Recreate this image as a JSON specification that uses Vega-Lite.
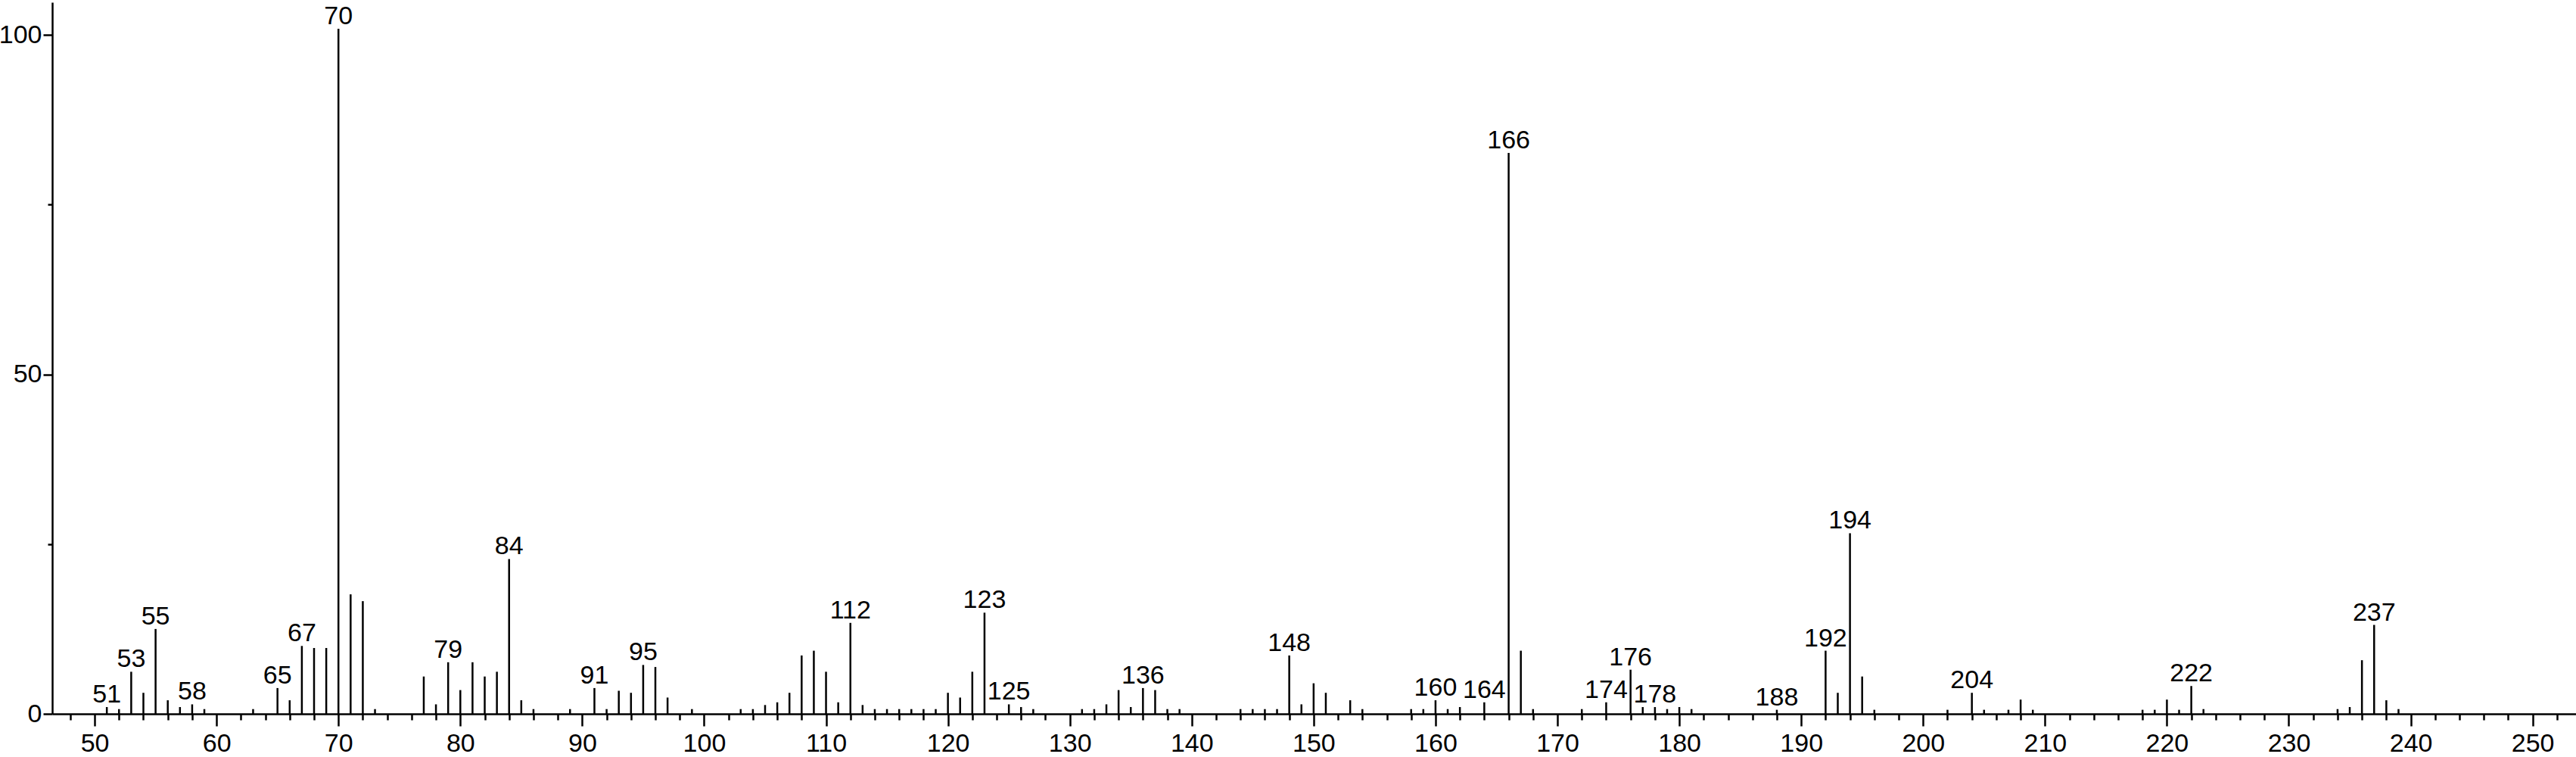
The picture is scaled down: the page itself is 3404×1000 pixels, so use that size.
{
  "$schema": "https://vega.github.io/schema/vega-lite/v6.json",
  "autosize": {"type": "none"},
  "padding": {"left": 69, "top": 3, "right": 0, "bottom": 57},
  "width": 3335,
  "height": 940,
  "background": "white",
  "config": {
    "view": {"stroke": null},
    "axis": {
      "domainColor": "black", "domainWidth": 2.5, "tickColor": "black", "tickWidth": 2.5,
      "labelColor": "black", "labelFont": "Liberation Sans", "labelFontSize": 34,
      "grid": false, "title": null, "labelOverlap": false, "labelFlush": false
    },
    "text": {"font": "Liberation Sans", "fontSize": 34, "color": "black"}
  },
  "data": {"values": [
    {"mz": 51, "rel": 1.0, "lab": 1}, {"mz": 52, "rel": 0.7, "lab": 0}, {"mz": 53, "rel": 6.2, "lab": 1},
    {"mz": 54, "rel": 3.1, "lab": 0}, {"mz": 55, "rel": 12.5, "lab": 1}, {"mz": 56, "rel": 2.0, "lab": 0},
    {"mz": 57, "rel": 1.0, "lab": 0}, {"mz": 58, "rel": 1.4, "lab": 1}, {"mz": 59, "rel": 0.7, "lab": 0},
    {"mz": 63, "rel": 0.7, "lab": 0}, {"mz": 65, "rel": 3.8, "lab": 1}, {"mz": 66, "rel": 2.0, "lab": 0},
    {"mz": 67, "rel": 10.0, "lab": 1}, {"mz": 68, "rel": 9.7, "lab": 0}, {"mz": 69, "rel": 9.7, "lab": 0},
    {"mz": 70, "rel": 100.9, "lab": 1}, {"mz": 71, "rel": 17.6, "lab": 0}, {"mz": 72, "rel": 16.6, "lab": 0},
    {"mz": 73, "rel": 0.7, "lab": 0}, {"mz": 77, "rel": 5.5, "lab": 0}, {"mz": 78, "rel": 1.4, "lab": 0},
    {"mz": 79, "rel": 7.6, "lab": 1}, {"mz": 80, "rel": 3.5, "lab": 0}, {"mz": 81, "rel": 7.6, "lab": 0},
    {"mz": 82, "rel": 5.5, "lab": 0}, {"mz": 83, "rel": 6.2, "lab": 0}, {"mz": 84, "rel": 22.8, "lab": 1},
    {"mz": 85, "rel": 2.0, "lab": 0}, {"mz": 86, "rel": 0.7, "lab": 0}, {"mz": 89, "rel": 0.7, "lab": 0},
    {"mz": 91, "rel": 3.8, "lab": 1}, {"mz": 92, "rel": 0.7, "lab": 0}, {"mz": 93, "rel": 3.4, "lab": 0},
    {"mz": 94, "rel": 3.1, "lab": 0}, {"mz": 95, "rel": 7.2, "lab": 1}, {"mz": 96, "rel": 6.9, "lab": 0},
    {"mz": 97, "rel": 2.4, "lab": 0}, {"mz": 99, "rel": 0.7, "lab": 0}, {"mz": 103, "rel": 0.7, "lab": 0},
    {"mz": 104, "rel": 0.7, "lab": 0}, {"mz": 105, "rel": 1.3, "lab": 0}, {"mz": 106, "rel": 1.7, "lab": 0},
    {"mz": 107, "rel": 3.1, "lab": 0}, {"mz": 108, "rel": 8.6, "lab": 0}, {"mz": 109, "rel": 9.3, "lab": 0},
    {"mz": 110, "rel": 6.2, "lab": 0}, {"mz": 111, "rel": 1.7, "lab": 0}, {"mz": 112, "rel": 13.4, "lab": 1},
    {"mz": 113, "rel": 1.3, "lab": 0}, {"mz": 114, "rel": 0.7, "lab": 0}, {"mz": 115, "rel": 0.7, "lab": 0},
    {"mz": 116, "rel": 0.7, "lab": 0}, {"mz": 117, "rel": 0.7, "lab": 0}, {"mz": 118, "rel": 0.7, "lab": 0},
    {"mz": 119, "rel": 0.7, "lab": 0}, {"mz": 120, "rel": 3.1, "lab": 0}, {"mz": 121, "rel": 2.4, "lab": 0},
    {"mz": 122, "rel": 6.2, "lab": 0}, {"mz": 123, "rel": 14.9, "lab": 1}, {"mz": 125, "rel": 1.4, "lab": 1},
    {"mz": 126, "rel": 1.0, "lab": 0}, {"mz": 127, "rel": 0.7, "lab": 0}, {"mz": 131, "rel": 0.7, "lab": 0},
    {"mz": 132, "rel": 0.7, "lab": 0}, {"mz": 133, "rel": 1.4, "lab": 0}, {"mz": 134, "rel": 3.5, "lab": 0},
    {"mz": 135, "rel": 1.0, "lab": 0}, {"mz": 136, "rel": 3.8, "lab": 1}, {"mz": 137, "rel": 3.5, "lab": 0},
    {"mz": 138, "rel": 0.7, "lab": 0}, {"mz": 139, "rel": 0.7, "lab": 0}, {"mz": 144, "rel": 0.7, "lab": 0},
    {"mz": 145, "rel": 0.7, "lab": 0}, {"mz": 146, "rel": 0.7, "lab": 0}, {"mz": 147, "rel": 0.7, "lab": 0},
    {"mz": 148, "rel": 8.6, "lab": 1}, {"mz": 149, "rel": 1.4, "lab": 0}, {"mz": 150, "rel": 4.5, "lab": 0},
    {"mz": 151, "rel": 3.1, "lab": 0}, {"mz": 153, "rel": 2.0, "lab": 0}, {"mz": 154, "rel": 0.7, "lab": 0},
    {"mz": 158, "rel": 0.7, "lab": 0}, {"mz": 159, "rel": 0.7, "lab": 0}, {"mz": 160, "rel": 2.0, "lab": 1},
    {"mz": 161, "rel": 0.7, "lab": 0}, {"mz": 162, "rel": 1.0, "lab": 0}, {"mz": 164, "rel": 1.7, "lab": 1},
    {"mz": 166, "rel": 82.6, "lab": 1}, {"mz": 167, "rel": 9.3, "lab": 0}, {"mz": 168, "rel": 0.7, "lab": 0},
    {"mz": 172, "rel": 0.7, "lab": 0}, {"mz": 174, "rel": 1.7, "lab": 1}, {"mz": 176, "rel": 6.5, "lab": 1},
    {"mz": 177, "rel": 1.0, "lab": 0}, {"mz": 178, "rel": 1.0, "lab": 1}, {"mz": 179, "rel": 0.7, "lab": 0},
    {"mz": 180, "rel": 1.0, "lab": 0}, {"mz": 181, "rel": 0.7, "lab": 0}, {"mz": 188, "rel": 0.6, "lab": 1},
    {"mz": 192, "rel": 9.3, "lab": 1}, {"mz": 193, "rel": 3.1, "lab": 0}, {"mz": 194, "rel": 26.6, "lab": 1},
    {"mz": 195, "rel": 5.5, "lab": 0}, {"mz": 196, "rel": 0.6, "lab": 0}, {"mz": 202, "rel": 0.6, "lab": 0},
    {"mz": 204, "rel": 3.1, "lab": 1}, {"mz": 205, "rel": 0.6, "lab": 0}, {"mz": 207, "rel": 0.6, "lab": 0},
    {"mz": 208, "rel": 2.1, "lab": 0}, {"mz": 209, "rel": 0.6, "lab": 0}, {"mz": 218, "rel": 0.6, "lab": 0},
    {"mz": 219, "rel": 0.6, "lab": 0}, {"mz": 220, "rel": 2.1, "lab": 0}, {"mz": 221, "rel": 0.6, "lab": 0},
    {"mz": 222, "rel": 4.1, "lab": 1}, {"mz": 223, "rel": 0.7, "lab": 0}, {"mz": 234, "rel": 0.7, "lab": 0},
    {"mz": 235, "rel": 1.0, "lab": 0}, {"mz": 236, "rel": 7.9, "lab": 0}, {"mz": 237, "rel": 13.1, "lab": 1},
    {"mz": 238, "rel": 2.0, "lab": 0}, {"mz": 239, "rel": 0.7, "lab": 0}
  ]},
  "encoding": {
    "x": {
      "field": "mz", "type": "quantitative",
      "scale": {"domain": [46.52, 253.56], "nice": false, "zero": false},
      "axis": {
        "values": [48,50,52,54,56,58,60,62,64,66,68,70,72,74,76,78,80,82,84,86,88,90,92,94,96,98,100,102,104,106,108,110,112,114,116,118,120,122,124,126,128,130,132,134,136,138,140,142,144,146,148,150,152,154,156,158,160,162,164,166,168,170,172,174,176,178,180,182,184,186,188,190,192,194,196,198,200,202,204,206,208,210,212,214,216,218,220,222,224,226,228,230,232,234,236,238,240,242,244,246,248,250,252],
        "labelExpr": "datum.value % 10 === 0 ? datum.label : ''",
        "tickSize": {"condition": {"test": "datum.value % 10 === 0", "value": 16}, "value": 8},
        "labelPadding": 6
      }
    },
    "y": {
      "field": "rel", "type": "quantitative",
      "scale": {"domain": [0, 104.8], "nice": false},
      "axis": {
        "values": [0, 25, 50, 75, 100],
        "labelExpr": "datum.value % 50 === 0 ? datum.label : ''",
        "tickSize": {"condition": {"test": "datum.value % 50 === 0", "value": 12}, "value": 6},
        "labelPadding": 2
      }
    }
  },
  "layer": [
    {"mark": {"type": "rule", "color": "black", "strokeWidth": 2.5}, "encoding": {"y2": {"datum": 0}}},
    {"transform": [{"filter": "datum.lab === 1"}],
     "mark": {"type": "text", "align": "center", "baseline": "alphabetic", "dy": -6},
     "encoding": {"text": {"field": "mz", "type": "quantitative", "format": "d"}}}
  ]
}
